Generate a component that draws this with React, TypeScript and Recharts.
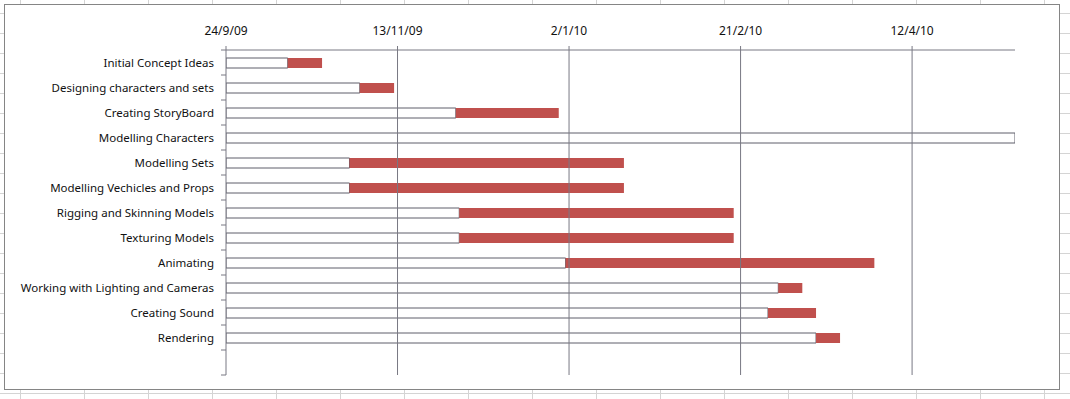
import React from 'react';
import { BarChart, Bar, XAxis, YAxis, ReferenceLine } from 'recharts';

const tasks = [
  'Initial Concept Ideas',
  'Designing characters and sets',
  'Creating StoryBoard',
  'Modelling Characters',
  'Modelling Sets',
  'Modelling Vechicles and Props',
  'Rigging and Skinning Models',
  'Texturing Models',
  'Animating',
  'Working with Lighting and Cameras',
  'Creating Sound',
  'Rendering',
  '',
];
// days after 24/9/09
const startOffsets = [18, 39, 67, 300, 36, 36, 68, 68, 99, 161, 158, 172, null];
const durations = [10, 10, 30, 80, 80, 80, 80, 80, 90, 7, 14, 7, null];
const tickValues = [0, 50, 100, 150, 200];
const tickLabels = ['24/9/09', '13/11/09', '2/1/10', '21/2/10', '12/4/10'];
const axisMax = 230;

const data = tasks.map((t, i) => ({ task: t, start: startOffsets[i], dur: durations[i] }));

const W = 1070;
const H = 399;
const M = { top: 20, right: 55, bottom: 24, left: 26 };
const XH = 30;
const YW = 200;
const plotH = H - M.top - M.bottom - XH;
const band = plotH / tasks.length;
const LINE = '#787883';
const FONT = "'Noto Sans', sans-serif";

const YTick = (props: any) => {
  const { x, y, payload, index } = props;
  const last = index === tasks.length - 1;
  return (
    <g>
      <line x1={x + 7} x2={x + 12} y1={y - band / 2} y2={y - band / 2} stroke={LINE} />
      {last && <line x1={x + 7} x2={x + 12} y1={y + band / 2} y2={y + band / 2} stroke={LINE} />}
      <text x={x} y={y} dy="0.355em" textAnchor="end" fontSize={11.5} fontFamily={FONT} fill="#111">
        {payload.value}
      </text>
    </g>
  );
};

export default function App() {
  return (
    <div
      style={{
        position: 'absolute',
        left: 0,
        top: 0,
        width: W,
        height: H,
        background: '#fff',
        backgroundImage:
          'repeating-linear-gradient(to bottom, transparent 0px, transparent 13px, #d4d4d4 13px, #d4d4d4 14px, transparent 14px, transparent 20px), repeating-linear-gradient(to right, transparent 0px, transparent 20px, #d4d4d4 20px, #d4d4d4 21px, transparent 21px, transparent 64px)',
        overflow: 'hidden',
      }}
    >
      <div
        style={{
          position: 'absolute',
          left: 4,
          top: 4,
          width: 1054,
          height: 384,
          border: '1px solid #858585',
          background: '#fff',
        }}
      />
      <div style={{ position: 'absolute', left: 0, top: 0 }}>
        <BarChart
          width={W}
          height={H}
          data={data}
          layout="vertical"
          margin={M}
          barSize={10}
          style={{ fontFamily: FONT }}
        >
          {tickValues.slice(1).map((v) => (
            <ReferenceLine key={v} x={v} stroke={LINE} ifOverflow="hidden" />
          ))}
          <XAxis
            type="number"
            orientation="top"
            domain={[0, axisMax]}
            allowDataOverflow
            ticks={tickValues}
            tickFormatter={(v: number) => tickLabels[tickValues.indexOf(v)] ?? ''}
            height={XH}
            tickSize={4}
            tickMargin={11}
            stroke={LINE}
            tick={{ fill: '#111', fontSize: 12, fontFamily: FONT }}
          />
          <YAxis
            type="category"
            dataKey="task"
            width={YW}
            interval={0}
            tickLine={false}
            tickSize={5}
            tickMargin={7}
            stroke={LINE}
            tick={<YTick />}
          />
          <Bar dataKey="start" stackId="a" fill="#ffffff" stroke="#5f5f6b" strokeWidth={1} isAnimationActive={false} />
          <Bar dataKey="dur" stackId="a" fill="#C0504D" isAnimationActive={false} />
        </BarChart>
      </div>
    </div>
  );
}
